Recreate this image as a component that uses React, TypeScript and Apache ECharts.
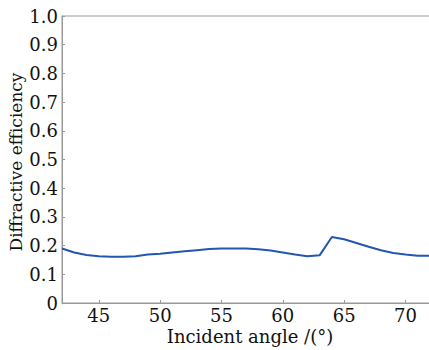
import React, { useEffect, useRef } from "react";
import * as echarts from "echarts";

const angles = [42, 43, 44, 45, 46, 47, 48, 49, 50, 51, 52, 53, 54, 55, 56, 57, 58, 59, 60, 61, 62, 63, 64, 65, 66, 67, 68, 69, 70, 71, 72];
const efficiency = [0.19, 0.176, 0.167, 0.163, 0.161, 0.161, 0.163, 0.169, 0.172, 0.176, 0.18, 0.184, 0.188, 0.19, 0.19, 0.19, 0.187, 0.183, 0.176, 0.169, 0.163, 0.166, 0.23, 0.222, 0.209, 0.196, 0.184, 0.174, 0.169, 0.165, 0.165];
const xTicks = [45, 50, 55, 60, 65, 70];
const xName = "Incident angle /(°)";
const yName = "Diffractive efficiency";

const FONT = "DejaVu Serif";

export default function App() {
  const ref = useRef<HTMLDivElement>(null);
  useEffect(() => {
    if (!ref.current) return;
    const chart = echarts.init(ref.current, undefined, { renderer: "svg" });
    chart.setOption({
      animation: false,
      grid: {
        left: 62,
        top: 16,
        width: 368,
        height: 287,
        outerBoundsMode: "none",
        containLabel: false,
        show: true,
        borderColor: "#999",
        borderWidth: 1,
        backgroundColor: "transparent",
      },
      graphic: [
        {
          type: "text",
          x: 250,
          y: 336,
          style: {
            text: xName,
            font: `18px "${FONT}"`,
            fill: "#111",
            textAlign: "center",
            textVerticalAlign: "middle",
          },
        },
        {
          type: "text",
          x: 16,
          y: 162,
          rotation: Math.PI / 2,
          style: {
            text: yName,
            font: `17px "${FONT}"`,
            fill: "#111",
            textAlign: "center",
            textVerticalAlign: "middle",
          },
        },
      ],
      xAxis: {
        type: "value",
        min: 42,
        max: 72,
        axisLine: { show: true, lineStyle: { color: "#999" } },
        axisTick: { show: true, inside: true, length: 3, customValues: xTicks, lineStyle: { color: "#999" } },
        axisLabel: { customValues: xTicks, fontFamily: FONT, fontSize: 18, color: "#111", margin: 3 },
        splitLine: { show: false },
      },
      yAxis: {
        type: "value",
        min: 0,
        max: 1,
        interval: 0.1,
        axisLine: { show: true, lineStyle: { color: "#999" } },
        axisTick: { show: true, inside: true, length: 3, lineStyle: { color: "#999" } },
        axisLabel: {
          fontFamily: FONT,
          fontSize: 18,
          color: "#111",
          margin: 4,
          formatter: (v: number) => (v === 0 ? "0" : v.toFixed(1)),
        },
        splitLine: { show: false },
      },
      series: [
        {
          type: "line",
          data: angles.map((a, i) => [a, efficiency[i]]),
          showSymbol: false,
          symbol: "none",
          lineStyle: { color: "#2356b0", width: 2 },
        },
      ],
    });
    return () => chart.dispose();
  }, []);
  return (
    <div
      ref={ref}
      style={{ position: "fixed", left: 0, top: 0, width: 429, height: 350, background: "#fff" }}
    />
  );
}
